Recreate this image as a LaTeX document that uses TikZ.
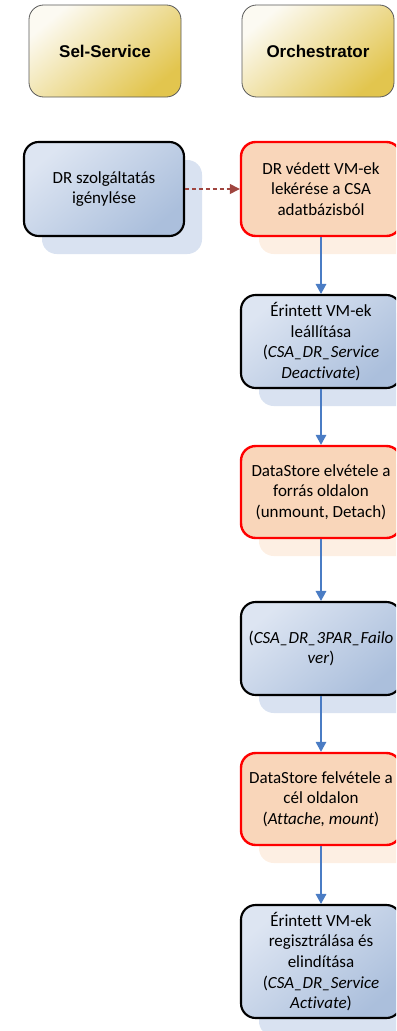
\documentclass[tikz,border=0pt]{standalone}
\usepackage{fontspec}
\setmainfont[Ligatures=NoCommon]{Carlito}
\newfontfamily\headfont{Liberation Sans}
\usetikzlibrary{shadows,arrows.meta}

\definecolor{goldD}{HTML}{E2C54E}
\definecolor{goldM}{HTML}{E9D06E}
\definecolor{goldL}{HTML}{FCFAF2}
\definecolor{blueL}{HTML}{DDE5F2}
\definecolor{blueM}{HTML}{C2D0E6}
\definecolor{blueD}{HTML}{ABBFDC}
\definecolor{blueSh}{HTML}{D9E2F1}
\definecolor{peach}{HTML}{F9D6BA}
\definecolor{peachSh}{HTML}{FDEFE3}
\definecolor{flowBlue}{HTML}{4A7CC4}
\definecolor{dashRed}{HTML}{A0453F}

\tikzset{
  lane/.style={rounded corners=11pt, draw=black!65, line width=0.6pt,
    minimum width=114pt, minimum height=69pt, inner sep=0pt,
    shading=axis, top color=goldL, middle color=goldM, bottom color=goldD,
    shading angle=40,
    font=\headfont\bfseries\fontsize{12.75}{15}\selectfont},
  task/.style={rounded corners=11pt, minimum width=120pt, inner sep=2pt,
    align=center, font=\fontsize{12.75}{15.5}\selectfont},
  bluetask/.style={task, draw=black, line width=1.6pt,
    shading=axis, top color=blueL, middle color=blueM, bottom color=blueD,
    shading angle=40,
    general shadow={fill=blueSh, shadow xshift=13.5pt, shadow yshift=-13.5pt}},
  redtask/.style={task, draw=red, line width=1.8pt, fill=peach,
    general shadow={fill=peachSh, shadow xshift=13.5pt, shadow yshift=-13.5pt}},
  flow/.style={draw=flowBlue, line width=0.9pt,
    -{Triangle[length=7.5pt,width=8pt]}},
  msg/.style={draw=dashRed, line width=1pt, dash pattern=on 3pt off 2.2pt,
    -{Triangle[length=7.5pt,width=7.5pt]}}
}

\begin{document}
\begin{tikzpicture}[x=0.75pt, y=-0.75pt]
  \useasboundingbox (0,0) rectangle (396,1031);
  \clip (0,0) rectangle (396,1031);

  % swimlane headers
  \node[lane] (hself) at (105,51) {Sel-Service};
  \node[lane] (horch) at (318,51) {Orchestrator};

  % request on the self-service side
  \node[bluetask, minimum height=70.5pt] (req) at (104,189)
    {DR szolgáltatás\\igénylése};

  % orchestrator steps
  \node[redtask, minimum height=70.5pt] (s1) at (321,189)
    {DR védett VM-ek\\lekérése a CSA\\adatbázisból};
  \node[bluetask, minimum height=69.75pt] (s2) at (321,341.5)
    {Érintett VM-ek\\leállítása\\(\textit{CSA\_DR\_Service}\\\textit{Deactivate})};
  \node[redtask, minimum height=69pt] (s3) at (321,492)
    {DataStore elvétele a\\forrás oldalon\\(unmount, Detach)};
  \node[bluetask, minimum height=69.75pt] (s4) at (321,648.5)
    {(\textit{CSA\_DR\_3PAR\_Failo}\\\textit{ver})};
  \node[redtask, minimum height=69pt] (s5) at (321,799)
    {DataStore felvétele a\\cél oldalon\\(\textit{Attache, mount})};
  \node[bluetask, minimum height=84.75pt] (s6) at (321,961.5)
    {Érintett VM-ek\\regisztrálása és\\elindítása\\(\textit{CSA\_DR\_Service}\\\textit{Activate})};

  % connectors
  \draw[msg] (req.east) -- (s1.west);
  \draw[flow] (s1.south) -- (s2.north);
  \draw[flow] (s2.south) -- (s3.north);
  \draw[flow] (s3.south) -- (s4.north);
  \draw[flow] (s4.south) -- (s5.north);
  \draw[flow] (s5.south) -- (s6.north);
\end{tikzpicture}
\end{document}
